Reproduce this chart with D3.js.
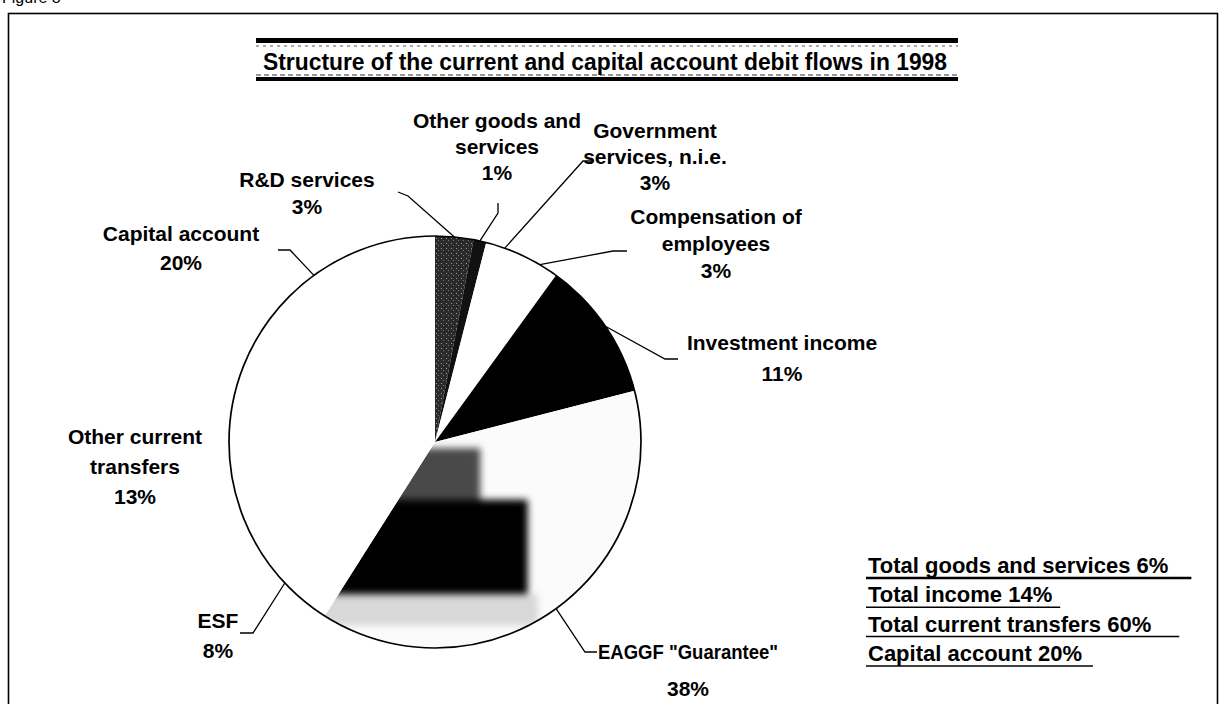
<!DOCTYPE html>
<html>
<head>
<meta charset="utf-8">
<script src="https://cdn.jsdelivr.net/npm/d3@7"></script>
<style>
  body { margin: 0; background: #fff; }
  svg { display: block; }
  text { font-family: "Liberation Sans", Arial, sans-serif; font-weight: bold; fill: #000; }
</style>
</head>
<body>
<div id="chart"></div>
<script>
// Data
const categories = [
  "R&D services",
  "Other goods and services",
  "Government services, n.i.e.",
  "Compensation of employees",
  "Investment income",
  'EAGGF "Guarantee"',
  "ESF",
  "Other current transfers",
  "Capital account"
];
const shares = [3, 1, 3, 3, 11, 38, 8, 13, 20];
const labelLines = [
  ["R&D services"],
  ["Other goods and", "services"],
  ["Government", "services, n.i.e."],
  ["Compensation of", "employees"],
  ["Investment income"],
  ['EAGGF "Guarantee"'],
  ["ESF"],
  ["Other current", "transfers"],
  ["Capital account"]
];
const totalsLabels = ["Total goods and services", "Total income", "Total current transfers", "Capital account"];
const totalsValues = [6, 14, 60, 20];
const title = "Structure of the current and capital account debit flows in 1998";

// Layout
const width = 1223;
const height = 704;
const cx = 435, cy = 442, r = 206;
const fills = ["url(#rdFill)", "#111", "#fff", "#fff", "#000", "url(#eaggfFill)", "#fff", "#fff", "#fff"];
// label anchor [centre x, first baseline, line gap]
const labelPos = [
  [307, 187, 27], [497, 128, 26], [655, 138, 26], [716, 224, 27], [782, 350, 31],
  [688, 659, 37], [218, 628, 30], [135, 444, 30], [181, 241, 29]
];
// leader elbow and end points (null = no leader)
const leaderPts = [
  [[408, 196], [398, 192]], [[498, 213], [498, 203]], [[583, 161], [593, 161]],
  [[613, 251], [627, 251]], [[665, 359], [678, 359]], [[585, 652], [597, 652]],
  [[253, 633], [240, 633]], null, [[290, 250], [278, 250]]
];
const totalsPad = [23, 8, 28, 11];

const svg = d3.select("#chart").append("svg")
  .attr("width", width).attr("height", height);

const defs = svg.append("defs");
defs.append("filter").attr("id", "fuzz")
  .attr("x", "-20%").attr("y", "-20%").attr("width", "140%").attr("height", "140%")
  .append("feGaussianBlur").attr("stdDeviation", 3.5);

// dark stipple for R&D
const rd = defs.append("pattern").attr("id", "rdFill")
  .attr("patternUnits", "userSpaceOnUse").attr("width", 5).attr("height", 5);
rd.append("rect").attr("width", 5).attr("height", 5).attr("fill", "#2a2a2a");
rd.append("rect").attr("x", 1).attr("y", 1).attr("width", 1).attr("height", 1).attr("fill", "#999");
rd.append("rect").attr("x", 3).attr("y", 3).attr("width", 1).attr("height", 1).attr("fill", "#777");

// scanned halftone of the EAGGF slice (pattern space = pie-local coordinates)
const eg = defs.append("pattern").attr("id", "eaggfFill")
  .attr("patternUnits", "userSpaceOnUse")
  .attr("x", -r).attr("y", -r).attr("width", 2 * r).attr("height", 2 * r);
eg.append("rect").attr("width", 2 * r).attr("height", 2 * r).attr("fill", "#fbfbfb");
eg.append("rect").attr("x", r * 0.3).attr("y", r * 1.74).attr("width", r * 1.2).attr("height", r * 0.15)
  .attr("fill", "#d8d8d8").attr("filter", "url(#fuzz)");
eg.append("rect").attr("x", r * 0.5).attr("y", r * 1.03).attr("width", r * 0.72).attr("height", r * 0.3)
  .attr("fill", "#4a4a4a").attr("filter", "url(#fuzz)");
eg.append("rect").attr("x", r * 0.3).attr("y", r * 1.28).attr("width", r * 1.15).attr("height", r * 0.46)
  .attr("fill", "#050505").attr("filter", "url(#fuzz)");

// Frame and partial figure caption
svg.append("text").attr("x", 2).attr("y", 3).style("font-weight", "normal")
  .style("font-size", "16px").text("Figure 8");
svg.append("rect").attr("x", 8.5).attr("y", 13.5).attr("width", 1209).attr("height", 720)
  .attr("fill", "none").attr("stroke", "#000").attr("stroke-width", 1.6);

// Title band
const tb = svg.append("g");
tb.append("rect").attr("x", 256).attr("y", 38).attr("width", 702).attr("height", 5).attr("fill", "#000");
tb.append("line").attr("x1", 256).attr("x2", 958).attr("y1", 46).attr("y2", 46)
  .attr("stroke", "#555").attr("stroke-width", 1).attr("stroke-dasharray", "3,4");
tb.append("line").attr("x1", 256).attr("x2", 958).attr("y1", 75).attr("y2", 75)
  .attr("stroke", "#333").attr("stroke-width", 1.2).attr("stroke-dasharray", "5,3");
tb.append("rect").attr("x", 256).attr("y", 77).attr("width", 702).attr("height", 4).attr("fill", "#000");
tb.append("text").attr("x", 263).attr("y", 70)
  .style("font-family", "'Liberation Sans Narrow', 'Arial Narrow', 'Liberation Sans', sans-serif")
  .style("font-size", "23px")
  .attr("textLength", 684).attr("lengthAdjust", "spacingAndGlyphs")
  .text(title);

// Pie
const pie = d3.pie().sort(null).value(d => d.value);
const arc = d3.arc().innerRadius(0).outerRadius(r);
const rows = categories.map((c, i) => ({ name: c, value: shares[i], i }));
const arcs = pie(rows);

const g = svg.append("g").attr("transform", `translate(${cx},${cy})`);
g.selectAll("path.slice").data(arcs).join("path")
  .attr("class", "slice")
  .attr("d", arc)
  .attr("fill", d => fills[d.data.i]);
g.append("circle").attr("r", r).attr("fill", "none").attr("stroke", "#000").attr("stroke-width", 1.7);

// Leaders
const edge = d3.arc().innerRadius(r).outerRadius(r);
arcs.forEach(d => {
  const pts = leaderPts[d.data.i];
  if (!pts) return;
  const [ex, ey] = edge.centroid(d);
  svg.append("polyline")
    .attr("points", [[cx + ex, cy + ey], pts[0], pts[1]].map(p => p.join(",")).join(" "))
    .attr("fill", "none").attr("stroke", "#000").attr("stroke-width", 1.3);
});

// Labels
arcs.forEach(d => {
  const i = d.data.i;
  const [x, y, gap] = labelPos[i];
  const lines = labelLines[i].concat([shares[i] + "%"]);
  const t = svg.append("text").attr("text-anchor", "middle").style("font-size", "21px");
  lines.forEach((s, k) => {
    const ts = t.append("tspan").attr("x", x).attr("y", y + k * gap).text(s);
    if (i === 5 && k === 0) ts.attr("textLength", 180).attr("lengthAdjust", "spacingAndGlyphs");
  });
});

// Totals block
const tot = svg.append("g");
totalsLabels.forEach((s, k) => {
  const y = 573 + k * 29.3;
  const t = tot.append("text").attr("x", 868).attr("y", y).style("font-size", "22px")
    .text(`${s} ${totalsValues[k]}%`);
  const w = t.node().getComputedTextLength();
  tot.append("line").attr("x1", 866).attr("x2", 868 + w + totalsPad[k])
    .attr("y1", y + 5).attr("y2", y + 5)
    .attr("stroke", "#000").attr("stroke-width", k === 0 ? 2.6 : 1.5);
});
</script>
</body>
</html>
